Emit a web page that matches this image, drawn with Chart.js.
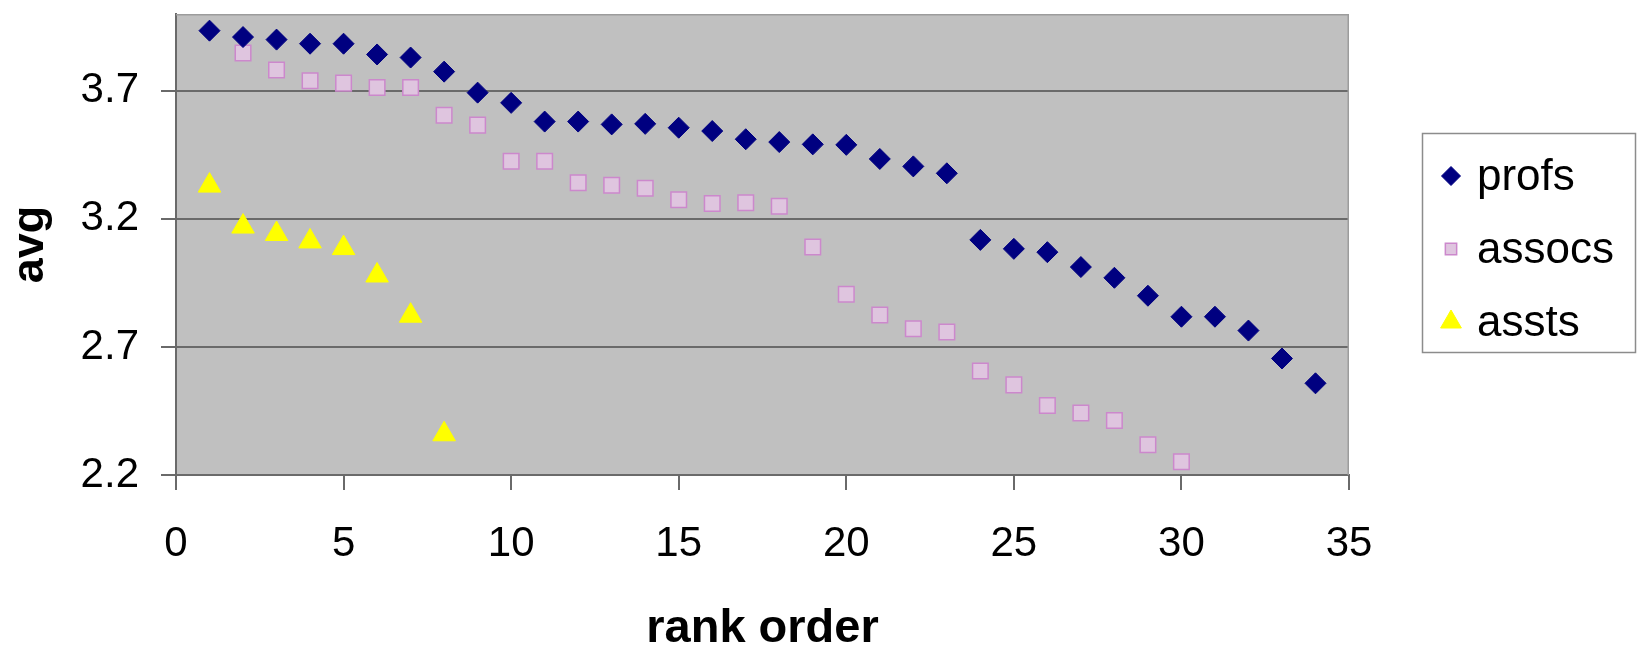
<!DOCTYPE html>
<html>
<head>
<meta charset="utf-8">
<title>avg by rank order</title>
<script src="https://cdn.jsdelivr.net/npm/chart.js@4.4.0/dist/chart.umd.min.js"></script>
<style>
  html, body { margin: 0; padding: 0; background: #ffffff; }
  #wrap { width: 1646px; height: 647px; }
</style>
</head>
<body>
<div id="wrap"><canvas id="chart" width="1646" height="647"></canvas></div>
<script>
// Rank positions and averages for each group
const profRanks = [1, 2, 3, 4, 5, 6, 7, 8, 9, 10, 11, 12, 13, 14, 15, 16, 17, 18, 19, 20,
                   21, 22, 23, 24, 25, 26, 27, 28, 29, 30, 31, 32, 33, 34];
const profAvg = [3.935, 3.91, 3.90, 3.884, 3.884, 3.842, 3.83, 3.775, 3.693, 3.653,
                 3.58, 3.58, 3.569, 3.571, 3.556, 3.543, 3.511, 3.50, 3.491, 3.489,
                 3.434, 3.405, 3.378, 3.118, 3.083, 3.07, 3.012, 2.97, 2.90, 2.818,
                 2.818, 2.764, 2.655, 2.558];

const assocRanks = [2, 3, 4, 5, 6, 7, 8, 9, 10, 11, 12, 13, 14, 15, 16, 17, 18, 19, 20,
                    21, 22, 23, 24, 25, 26, 27, 28, 29, 30];
const assocAvg = [3.848, 3.781, 3.739, 3.73, 3.713, 3.713, 3.605, 3.566, 3.425, 3.425,
                  3.341, 3.331, 3.32, 3.275, 3.26, 3.263, 3.249, 3.09, 2.906, 2.825,
                  2.771, 2.758, 2.606, 2.552, 2.471, 2.442, 2.413, 2.318, 2.252];

const asstRanks = [1, 2, 3, 4, 5, 6, 7, 8];
const asstAvg = [3.33, 3.17, 3.141, 3.112, 3.086, 2.979, 2.822, 2.359];

const seriesNames = ['profs', 'assocs', 'assts'];
const xTickValues = [0, 5, 10, 15, 20, 25, 30, 35];
const yTickValues = [2.2, 2.7, 3.2, 3.7];
const xTitle = 'rank order';
const yTitle = 'avg';

const FONT = "'Liberation Sans', Arial, Helvetica, sans-serif";

const toPoints = (xs, ys) => xs.map((x, i) => ({ x: x, y: ys[i] }));

// Grey plot background plus the thin frame on the top and right edges
const plotBackdrop = {
  id: 'plotBackdrop',
  beforeDraw(chart) {
    const { ctx, chartArea: a } = chart;
    ctx.save();
    ctx.fillStyle = '#c0c0c0';
    ctx.fillRect(a.left, a.top, a.right - a.left, a.bottom - a.top);
    ctx.restore();
  },
  beforeDatasetsDraw(chart) {
    const { ctx, chartArea: a } = chart;
    ctx.save();
    ctx.strokeStyle = '#9c9c9c';
    ctx.lineWidth = 1.5;
    ctx.beginPath();
    ctx.moveTo(a.left, a.top + 0.75);
    ctx.lineTo(a.right - 0.75, a.top + 0.75);
    ctx.lineTo(a.right - 0.75, a.bottom);
    ctx.stroke();
    ctx.restore();
  }
};

// Framed legend at the right side of the chart
const boxedLegend = {
  id: 'boxedLegend',
  afterDraw(chart, args, opts) {
    const ctx = chart.ctx;
    const b = opts.box;
    ctx.save();
    ctx.fillStyle = '#ffffff';
    ctx.fillRect(b.x, b.y, b.w, b.h);
    ctx.strokeStyle = '#8c8c8c';
    ctx.lineWidth = 1.5;
    ctx.strokeRect(b.x + 0.5, b.y + 0.5, b.w, b.h);
    chart.data.datasets.forEach((ds, i) => {
      const y = b.y + opts.firstRow + i * opts.rowGap;
      ctx.fillStyle = ds.backgroundColor;
      ctx.strokeStyle = ds.borderColor;
      ctx.lineWidth = ds.borderWidth;
      Chart.helpers.drawPoint(ctx, {
        pointStyle: ds.pointStyle,
        radius: opts.markerRadius[i],
        rotation: 0,
        borderWidth: ds.borderWidth
      }, b.x + opts.markerX, y);
      ctx.fillStyle = '#000000';
      ctx.font = opts.fontSize + 'px ' + FONT;
      ctx.textAlign = 'left';
      ctx.textBaseline = 'middle';
      ctx.fillText(ds.label, b.x + opts.textX, y + opts.textShift);
    });
    ctx.restore();
  }
};

new Chart(document.getElementById('chart'), {
  type: 'scatter',
  data: {
    datasets: [
      {
        label: seriesNames[0],
        data: toPoints(profRanks, profAvg),
        pointStyle: 'rectRot',
        pointRadius: 10.5,
        backgroundColor: '#000080',
        borderColor: '#000080',
        borderWidth: 1
      },
      {
        label: seriesNames[1],
        data: toPoints(assocRanks, assocAvg),
        pointStyle: 'rect',
        pointRadius: 11,
        backgroundColor: '#dfc5df',
        borderColor: '#cc88cc',
        borderWidth: 1.5
      },
      {
        label: seriesNames[2],
        data: toPoints(asstRanks, asstAvg),
        pointStyle: 'triangle',
        pointRadius: 13,
        backgroundColor: '#ffff00',
        borderColor: '#ffff00',
        borderWidth: 1
      }
    ]
  },
  options: {
    responsive: false,
    animation: false,
    devicePixelRatio: 1,
    events: [],
    layout: { padding: { top: 7, right: 297, bottom: 0, left: 0 } },
    scales: {
      x: {
        type: 'linear',
        position: 'bottom',
        min: 0,
        max: 35,
        afterBuildTicks: s => { s.ticks = xTickValues.map(v => ({ value: v })); },
        afterFit: s => { s.height = 172; s.paddingLeft = 0; s.paddingRight = 0; },
        ticks: {
          padding: 29,
          color: '#000000',
          font: { family: FONT, size: 42 },
          callback: v => String(v)
        },
        grid: {
          drawOnChartArea: false,
          drawTicks: true,
          tickLength: 15,
          color: '#6a6a6a',
          lineWidth: 2
        },
        border: { display: true, color: '#6a6a6a', width: 2 },
        title: {
          display: true,
          text: xTitle,
          color: '#000000',
          font: { family: FONT, size: 47, weight: 'bold', lineHeight: 0.75 },
          padding: { top: 0, bottom: 0 }
        }
      },
      y: {
        type: 'linear',
        position: 'left',
        min: 2.2,
        max: 4.0,
        afterBuildTicks: s => { s.ticks = yTickValues.map(v => ({ value: v })); },
        afterFit: s => { s.width = 176; s.paddingTop = 0; s.paddingBottom = 0; },
        ticks: {
          padding: 22,
          color: '#000000',
          font: { family: FONT, size: 42 },
          callback: v => Number(v).toFixed(1)
        },
        grid: {
          drawOnChartArea: true,
          drawTicks: true,
          tickLength: 15,
          color: '#6a6a6a',
          lineWidth: 2
        },
        border: { display: true, color: '#6a6a6a', width: 2 },
        title: {
          display: true,
          text: yTitle,
          color: '#000000',
          font: { family: FONT, size: 45, weight: 'bold', lineHeight: 1.2 },
          padding: { top: 4, bottom: 0 }
        }
      }
    },
    plugins: {
      legend: { display: false },
      tooltip: { enabled: false },
      boxedLegend: {
        box: { x: 1422, y: 133, w: 213, h: 219 },
        markerX: 29,
        textX: 55,
        firstRow: 43,
        rowGap: 73,
        textShift: 2,
        fontSize: 44,
        markerRadius: [9.5, 8, 12]
      }
    }
  },
  plugins: [plotBackdrop, boxedLegend]
});
</script>
</body>
</html>
